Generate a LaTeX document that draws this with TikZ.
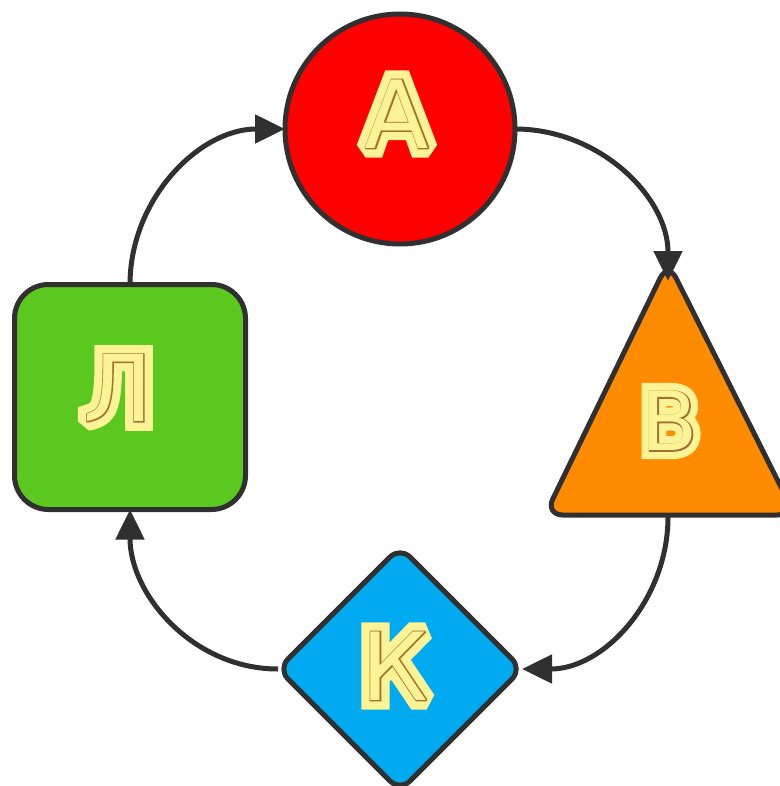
\documentclass[tikz,border=0pt]{standalone}
\usepackage{fontspec}
\usetikzlibrary{arrows.meta,shapes.geometric}
\newfontfamily\fatfont[FakeBold=20]{DejaVu Sans}
\newfontfamily\rimfont[FakeBold=2.4]{DejaVu Sans}
\newfontfamily\plainfont{DejaVu Sans}
\definecolor{edge}{RGB}{48,48,48}
\definecolor{cred}{RGB}{255,0,0}
\definecolor{corange}{RGB}{255,140,0}
\definecolor{cblue}{RGB}{0,170,240}
\definecolor{cgreen}{RGB}{90,200,30}
\definecolor{lyel}{RGB}{252,243,150}
\definecolor{inl}{RGB}{160,115,45}
\newcommand\inlineletter[2]{\fontsize{#1}{#1}\selectfont
  \rlap{\color{lyel}\fatfont #2}\rlap{\color{inl}\rimfont #2}{\color{lyel}\plainfont #2}}
\tikzset{
  shapeline/.style={draw=edge,line width=5pt},
  flow/.style={draw=edge,line width=5pt,-{Triangle[length=30pt,width=28pt]}},
  letterbox/.style={inner sep=0pt,outer sep=0pt,anchor=center,line join=miter,miter limit=1.5}
}
\begin{document}
\begin{tikzpicture}[x=1pt,y=-1pt]
\useasboundingbox (0,0) rectangle (779,786);
\fill[white] (0,0) rectangle (779,786);
% shapes
\node[shapeline,circle,fill=cred,minimum size=230pt,inner sep=0pt,outer sep=0pt] (A) at (400,129) {};
\node[shapeline,rectangle,rounded corners=34pt,fill=cgreen,minimum width=231pt,minimum height=225pt,inner sep=0pt,outer sep=0pt] (L) at (130,397) {};
\node[shapeline,diamond,rounded corners=14pt,fill=cblue,minimum width=244pt,minimum height=244pt,inner sep=0pt,outer sep=0pt] (K) at (400,669) {};
\coordinate (Btop) at (668,281);
\coordinate (Bbot) at (668,517);
\draw[shapeline,fill=corange,rounded corners=18pt] (668,262) -- (795,515) -- (545,515) -- cycle;
% letters
\node[letterbox] (tA) at (397,114) {\inlineletter{94pt}{А}};
\node[letterbox] (tL) at (118,388) {\inlineletter{92pt}{Л}};
\node[letterbox] (tK) at (395,666) {\inlineletter{94pt}{К}};
\node[letterbox] (tB) at (670,421) {\inlineletter{82pt}{В}};
% connectors
\draw[flow] (L.north) to[out=90,in=180] (A.west);
\draw[flow] (A.east) to[out=0,in=90] (Btop);
\draw[flow] (Bbot) to[out=-90,in=0] (K.east);
\draw[flow] (K.west) to[out=180,in=-90] (L.south);
\end{tikzpicture}
\end{document}
